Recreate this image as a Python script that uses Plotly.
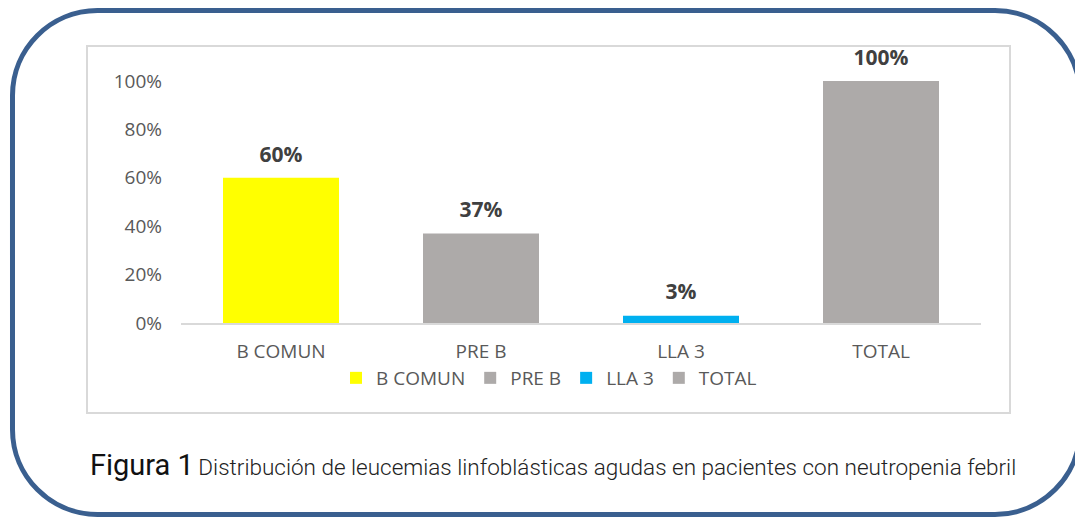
import plotly.graph_objects as go

categories = ["B COMUN", "PRE B", "LLA 3", "TOTAL"]
values = [0.60, 0.37, 0.03, 1.00]
labels = ["60%", "37%", "3%", "100%"]
colors = ["#FFFF00", "#ADAAA9", "#00B0F0", "#ADAAA9"]

# the page body has an 8px margin, so the figure starts at (8, 8)
OFF = 8
W, H = 1083 - OFF, 517 - OFF
L, R, T, B = 181 - OFF, 981 - OFF, 81 - OFF, 323 - OFF  # plot area in figure pixels


def px(x):
    # screen pixel -> paper x
    return (x - OFF - L) / (R - L)


def py(y):
    # screen pixel -> paper y
    return (B - (y - OFF)) / (B - T)


def rounded_rect(x0, y0, x1, y1, r):
    # path in paper coords for a rounded rectangle given in screen pixels
    k = 0.5523 * r
    pts = [
        f"M {px(x0 + r)} {py(y0)}",
        f"L {px(x1 - r)} {py(y0)}",
        f"C {px(x1 - r + k)} {py(y0)} {px(x1)} {py(y0 + r - k)} {px(x1)} {py(y0 + r)}",
        f"L {px(x1)} {py(y1 - r)}",
        f"C {px(x1)} {py(y1 - r + k)} {px(x1 - r + k)} {py(y1)} {px(x1 - r)} {py(y1)}",
        f"L {px(x0 + r)} {py(y1)}",
        f"C {px(x0 + r - k)} {py(y1)} {px(x0)} {py(y1 - r + k)} {px(x0)} {py(y1 - r)}",
        f"L {px(x0)} {py(y0 + r)}",
        f"C {px(x0)} {py(y0 + r - k)} {px(x0 + r - k)} {py(y0)} {px(x0 + r)} {py(y0)}",
        "Z",
    ]
    return " ".join(pts)


fig = go.Figure()
for cat, val, col in zip(categories, values, colors):
    fig.add_trace(
        go.Bar(
            x=[cat],
            y=[val],
            name=cat,
            marker=dict(color=col, line_width=0),
            width=0.58,
        )
    )

# value labels: text on invisible markers so they sit a bit higher than bar text
fig.add_trace(
    go.Scatter(
        x=categories,
        y=values,
        mode="markers+text",
        text=labels,
        textposition="top center",
        marker=dict(size=16, color="rgba(0,0,0,0)"),
        textfont=dict(family="Open Sans", size=21, color="#404040", weight="bold"),
        showlegend=False,
        cliponaxis=False,
        hoverinfo="skip",
    )
)

fig.update_layout(
    width=W,
    height=H,
    margin=dict(l=L, r=W - R, t=T, b=H - B),
    plot_bgcolor="white",
    paper_bgcolor="white",
    barmode="relative",
    font=dict(family="Open Sans", size=18, color="#595959"),
    showlegend=True,
    legend=dict(
        orientation="h",
        x=px(549),
        y=py(378),
        xanchor="center",
        yanchor="middle",
        font=dict(size=19, color="#595959"),
        itemwidth=30,
        tracegroupgap=0,
    ),
    xaxis=dict(
        range=[-0.5, 3.5],
        showline=True,
        linecolor="#D9D9D9",
        linewidth=2,
        showgrid=False,
        ticks="",
        ticklabelstandoff=10,
        tickfont=dict(size=19, color="#595959"),
    ),
    yaxis=dict(
        range=[0, 1],
        tickvals=[0, 0.2, 0.4, 0.6, 0.8, 1.0],
        ticktext=["0%", "20%", "40%", "60%", "80%", "100%"],
        showgrid=False,
        zeroline=False,
        showline=False,
        ticklabelstandoff=18,
        tickfont=dict(size=19, color="#595959"),
    ),
    shapes=[
        dict(
            type="rect", xref="paper", yref="paper",
            x0=px(87), x1=px(1010), y0=py(413), y1=py(46),
            line=dict(color="#D9D9D9", width=2), layer="below",
        ),
        dict(
            type="path", xref="paper", yref="paper",
            path=rounded_rect(12.5, 10.5, 1080, 514.5, 85),
            line=dict(color="#3A5F8F", width=5),
        ),
    ],
    annotations=[
        dict(
            xref="paper", yref="paper",
            x=px(88), y=py(465),
            xanchor="left", yanchor="middle",
            showarrow=False,
            text="<span style='font-size:29px;font-weight:400;color:#111'>Figura 1</span>"
                 " <span style='font-size:22.5px;font-weight:300'>Distribución de leucemias linfoblásticas agudas en pacientes con neutropenia febril</span>",
            font=dict(family="Roboto", color="#222222"),
        )
    ],
)

fig.write_html("out.html")
